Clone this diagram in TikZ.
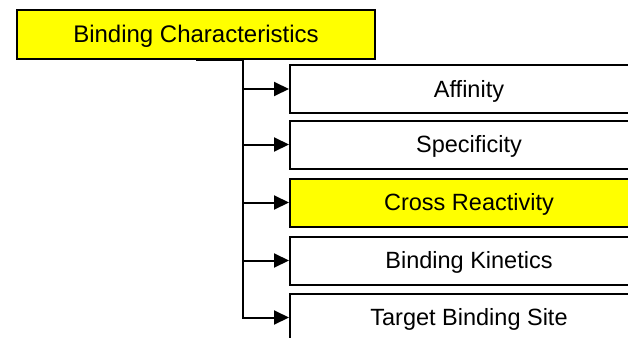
\documentclass[tikz,border=0pt]{standalone}
\usepackage{fontspec}
\setmainfont{Liberation Sans}
\usetikzlibrary{arrows.meta}
\definecolor{hilite}{HTML}{FFFF00}
\begin{document}
\begin{tikzpicture}[x=1pt,y=-1pt,
  box/.style={draw=black, line width=2pt, fill=white, rectangle,
    minimum width=358pt, minimum height=48pt, inner sep=0pt,
    text height=16.8pt, text depth=0pt,
    font=\fontsize{23.5}{28}\selectfont},
  hot/.style={fill=hilite},
  child/.style={box, anchor=west},
  link/.style={draw=black, line width=2pt,
    -{Triangle[length=15pt,width=14pt]}}]
\clip (0,0) rectangle (628,337);

% root of the tree
\node[box, hot, minimum height=49pt, font=\fontsize{24}{28}\selectfont]
  (root) at (196,34.5) {Binding Characteristics};

% children, stacked on the right
\node[child] (aff)  at (289,89)    {Affinity};
\node[child] (spec) at (289,144.5) {Specificity};
\node[child, hot] (cross) at (289,202.5) {Cross Reactivity};
\node[child] (kin)  at (289,260.5) {Binding Kinetics};
\node[child] (site) at (289,317.5) {Target Binding Site};

% trunk of the connectors
\coordinate (trunk) at (243,60);
\foreach \c in {aff,spec,cross,kin,site}
  \draw[link, line join=miter] (root.south) -- (trunk) |- (\c.west);
\end{tikzpicture}
\end{document}
